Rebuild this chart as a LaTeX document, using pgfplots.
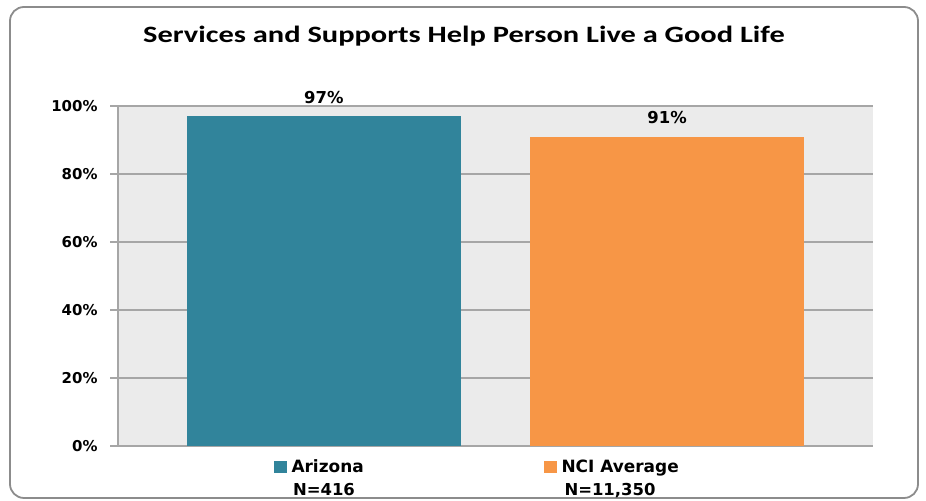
\documentclass[border=0pt]{standalone}
\usepackage{pgfplots}
\pgfplotsset{compat=1.18}
\usepackage{fontspec}
\setmainfont{DejaVu Sans}
\newfontfamily\titlefont[FakeStretch=1.3]{Carlito}
\definecolor{azc}{HTML}{31849B}
\definecolor{ncic}{HTML}{F79646}
\definecolor{bgc}{HTML}{EBEBEB}
\definecolor{gridc}{HTML}{A6A6A6}
\definecolor{framec}{HTML}{8C8C8C}
\begin{document}
\begin{tikzpicture}[x=1bp,y=1bp]
\useasboundingbox (0,0) rectangle (926,501);
\draw[color=framec, line width=1.8bp, rounded corners=14bp] (10,3) rectangle (918,494);
\node[font=\titlefont\bfseries\fontsize{23.5}{27}\selectfont, anchor=base] at (464,458) {Services and Supports Help Person Live a Good Life};
\begin{axis}[at={(118bp,55bp)}, anchor=south west, width=755bp, height=340bp, scale only axis,
  xmin=-0.6, xmax=1.6, ymin=0, ymax=100,
  ytick={0,20,40,60,80,100},
  yticklabel={\pgfmathprintnumber{\tick}\%},
  /pgf/number format/assume math mode=true,
  axis background/.style={fill=bgc},
  ymajorgrids, grid style={gridc, line width=1.2bp},
  axis x line*=bottom, axis y line*=left,
  axis line style={gridc, line width=1.2bp, -},
  xtick=\empty,
  tick align=outside, major tick length=8bp,
  ytick style={gridc, line width=1.2bp},
  yticklabel style={font=\bfseries\fontsize{15}{18}\selectfont, xshift=-9bp},
  ybar, bar width=274bp,
  nodes near coords={\pgfmathprintnumber{\pgfplotspointmeta}\%},
  nodes near coords style={font=\bfseries\fontsize{16.5}{19}\selectfont, black, yshift=9bp},
]
\addplot[fill=azc, draw=none, bar shift=0pt] coordinates {(0,97)};
\addplot[fill=ncic, draw=none, bar shift=0pt] coordinates {(1,91)};
\end{axis}
\node[anchor=base west, font=\bfseries\fontsize{17}{19}\selectfont] at (270,28) {{\color{azc}\rule{13bp}{12bp}}\hspace{5bp}Arizona};
\node[anchor=base, font=\bfseries\fontsize{16.5}{19}\selectfont] at (324,5) {N=416};
\node[anchor=base west, font=\bfseries\fontsize{17}{19}\selectfont] at (540,28) {{\color{ncic}\rule{13bp}{12bp}}\hspace{5bp}NCI Average};
\node[anchor=base, font=\bfseries\fontsize{16.5}{19}\selectfont] at (610,5) {N=11,350};
\end{tikzpicture}
\end{document}
